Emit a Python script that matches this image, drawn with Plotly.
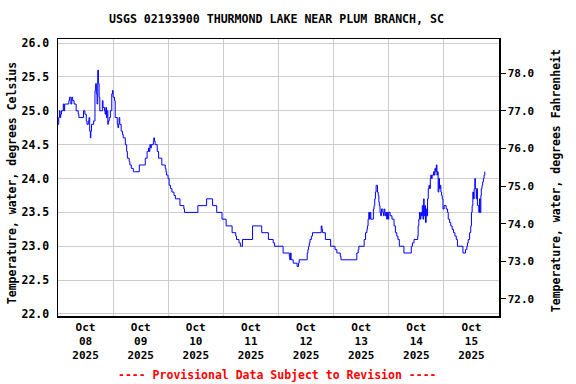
import datetime as dt
import plotly.graph_objects as go

# ---- data: hours since 2025-10-08 00:00 and water temperature (deg C)
start = dt.datetime(2025, 10, 8, 0, 0)
hours = [
    0.0, 0.3, 0.6, 0.9, 1.2, 1.5, 2.3, 2.6, 2.9, 3.2, 4.7, 5.0, 5.6, 6.0, 6.4, 7.0, 7.9, 8.8, 9.1,
    11.1, 11.7, 12.3, 12.6, 13.2, 13.5, 13.8, 14.1, 14.3, 14.6, 15.5, 16.1, 16.4, 16.7, 17.0, 17.3,
    17.6, 17.9, 18.2, 19.0, 19.3, 19.6, 20.2, 20.5, 20.8, 21.1, 21.4, 21.7, 21.9, 22.3, 22.8, 23.4,
    23.7, 24.0, 24.6, 24.9, 25.8, 26.1, 26.4, 26.6, 26.9, 27.5, 28.1, 28.4, 29.3, 29.9, 30.2, 31.0,
    31.3, 31.9, 32.8, 33.4, 35.4, 38.0, 38.8, 39.4, 39.7, 40.0, 40.4, 40.6, 41.5, 41.7, 42.0, 42.3,
    43.2, 43.8, 45.2, 46.7, 47.0, 47.3, 47.9, 48.4, 49.0, 49.6, 50.5, 51.1, 53.1, 54.8, 55.1, 60.9,
    64.7, 67.3, 69.1, 71.4, 73.2, 75.8, 77.4, 77.7, 78.8, 79.4, 80.3, 84.7, 88.7, 91.6, 93.7, 94.3,
    98.0, 100.7, 100.9, 101.2, 101.5, 102.4, 104.1, 104.7, 105.0, 108.5, 108.8, 109.1, 109.4, 109.7,
    110.3, 110.8, 114.6, 114.9, 115.2, 116.4, 118.7, 120.6, 121.4, 122.9, 123.2, 130.1, 130.7, 131.0,
    133.3, 133.9, 134.5, 134.7, 135.0, 135.3, 135.6, 135.9, 136.2, 137.3, 137.6, 137.9, 138.2, 138.5,
    139.1, 139.4, 139.7, 139.9, 140.2, 140.5, 140.8, 141.4, 141.7, 142.0, 142.3, 142.5, 142.8, 143.1,
    143.4, 143.7, 144.0, 144.6, 145.4, 146.3, 146.9, 147.5, 148.0, 148.6, 150.6, 153.8, 154.3, 155.0,
    156.6, 156.8, 157.1, 157.4, 157.7, 158.0, 158.3, 158.6, 158.9, 159.2, 159.4, 159.7, 160.0, 160.3,
    160.6, 160.9, 161.2, 161.5, 161.8, 162.1, 162.3, 162.6, 162.9, 163.5, 163.8, 164.1, 164.4, 164.7,
    165.0, 165.2, 165.5, 165.8, 166.1, 166.4, 166.7, 167.0, 167.3, 167.6, 168.1, 169.0, 169.6, 169.9,
    170.5, 171.0, 171.6, 172.2, 172.8, 173.4, 173.9, 176.3, 177.4, 178.0, 178.3, 178.6, 179.2, 179.7,
    180.0, 180.3, 180.6, 180.9, 181.2, 181.5, 181.7, 182.1, 182.3, 182.6, 183.2, 183.5, 183.8, 184.1,
    184.3, 184.6, 184.9, 185.2, 185.5, 185.8,
]
temp_c = [
    24.8, 24.9, 25.0, 24.9, 24.95, 25.0, 25.1, 25.0, 25.1, 25.1, 25.15, 25.2, 25.1, 25.2, 25.15, 25.1, 25.0, 24.95, 24.9,
    25.0, 24.95, 24.85, 24.8, 24.85, 24.9, 24.7, 24.6, 24.7, 24.8, 24.85, 25.3, 25.4, 25.25, 25.1, 25.6,
    25.4, 25.2, 25.0, 25.0, 25.15, 25.05, 25.0, 24.95, 25.05, 24.9, 25.0, 24.8, 24.85, 24.9, 25.0, 25.25,
    25.3, 25.2, 25.15, 24.9, 24.8, 24.75, 24.8, 24.9, 24.8, 24.7, 24.65, 24.6, 24.5, 24.4, 24.3, 24.25,
    24.2, 24.15, 24.1, 24.1, 24.2, 24.3, 24.4, 24.45, 24.4, 24.5, 24.45, 24.5, 24.55, 24.6, 24.55, 24.5,
    24.4, 24.3, 24.2, 24.15, 24.1, 24.05, 24.0, 23.9, 23.85, 23.8, 23.75, 23.7, 23.6, 23.55, 23.5, 23.6,
    23.7, 23.6, 23.5, 23.4, 23.3, 23.2, 23.15, 23.1, 23.05, 23.0, 23.1, 23.3, 23.2, 23.1, 23.05, 23.0,
    22.9, 22.85, 22.8, 22.9, 22.8, 22.75, 22.7, 22.75, 22.8, 22.9, 22.95, 23.0, 23.05, 23.1,
    23.15, 23.2, 23.3, 23.25, 23.2, 23.1, 23.0, 22.95, 22.9, 22.85, 22.8, 22.9, 22.95, 23.0,
    23.1, 23.2, 23.25, 23.3, 23.4, 23.5, 23.4, 23.5, 23.4, 23.55, 23.6, 23.7, 23.8, 23.9,
    23.8, 23.75, 23.65, 23.6, 23.5, 23.45, 23.55, 23.5, 23.45, 23.55, 23.5, 23.45, 23.5, 23.4,
    23.5, 23.4, 23.5, 23.45, 23.4, 23.3, 23.2, 23.15, 23.1, 23.0, 22.9, 23.0, 23.05, 23.1,
    23.15, 23.3, 23.4, 23.5, 23.4, 23.5, 23.45, 23.6, 23.4, 23.7, 23.45, 23.6, 23.35, 23.55,
    23.45, 23.7, 23.85, 23.9, 23.85, 24.0, 24.05, 24.0, 24.05, 24.1, 24.05, 24.15, 24.1, 24.2,
    24.05, 24.1, 23.8, 24.0, 23.85, 23.9, 23.8, 23.75, 23.7, 23.55, 23.6, 23.55, 23.5, 23.4,
    23.35, 23.3, 23.25, 23.2, 23.15, 23.1, 23.0, 22.9, 22.95, 23.0, 23.05, 23.1, 23.2, 23.3,
    23.5, 23.6, 23.8, 23.7, 23.85, 24.0, 23.85, 23.7, 23.85, 23.6, 23.5, 23.7, 23.5, 23.75,
    23.85, 23.9, 23.95, 24.0, 24.05, 24.1,
]
day_labels = ["08", "09", "10", "11", "12", "13", "14", "15"]
c_ticks = [22.0, 22.5, 23.0, 23.5, 24.0, 24.5, 25.0, 25.5, 26.0]
f_ticks = [72.0, 73.0, 74.0, 75.0, 76.0, 77.0, 78.0]
c_range = [21.97, 26.06]

times = [start + dt.timedelta(hours=h) for h in hours]
temp_f = [c * 1.8 + 32 for c in temp_c]
tick_pos = [start + dt.timedelta(days=i, hours=12) for i in range(len(day_labels))]
tick_txt = ["Oct<br>%s<br>2025" % d for d in day_labels]

FONT = "DejaVu Sans Mono"

fig = go.Figure()
fig.add_trace(go.Scatter(x=times, y=temp_c, mode="lines", line=dict(color="#0000ff", width=1, shape="hv"),
                         showlegend=False, hoverinfo="skip"))
fig.add_trace(go.Scatter(x=times, y=temp_f, mode="lines", yaxis="y2", line=dict(color="rgba(0,0,0,0)", width=0),
                         showlegend=False, hoverinfo="skip"))

fig.update_layout(
    width=576, height=384,
    margin=dict(l=58, r=77, t=39, b=68),
    paper_bgcolor="white", plot_bgcolor="white",
    font=dict(family=FONT, size=11, color="black", weight="bold"),
    title=dict(text="USGS 02193900 THURMOND LAKE NEAR PLUM BRANCH, SC", x=0.48, xanchor="center",
               y=0.95, yanchor="middle", font=dict(family=FONT, size=11.6, color="black", weight="bold")),
    xaxis=dict(
        type="date",
        range=[start, start + dt.timedelta(days=8)],
        tickmode="array", tickvals=tick_pos, ticktext=tick_txt,
        showgrid=False, ticks="", tickfont=dict(size=11),
        showline=True, linecolor="black", linewidth=1.5, mirror=True,
        minor=dict(tick0=start, dtick=86400000, showgrid=True, gridcolor="#cccccc", gridwidth=1, ticks=""),
        zeroline=False,
    ),
    yaxis=dict(
        range=c_range, tickmode="array", tickvals=c_ticks, tickformat=".1f",
        showgrid=True, gridcolor="#cccccc", gridwidth=1,
        ticks="outside", ticklen=5, tickcolor="rgba(0,0,0,0)",
        showline=True, linecolor="black", linewidth=1.5, zeroline=False,
        tickfont=dict(size=11.5),
    ),
    yaxis2=dict(
        overlaying="y", side="right",
        range=[c_range[0] * 1.8 + 32, c_range[1] * 1.8 + 32],
        tickmode="array", tickvals=f_ticks, tickformat=".1f",
        showgrid=False, ticks="outside", ticklen=5, tickcolor="black", tickwidth=1,
        showline=True, linecolor="black", linewidth=1.5, zeroline=False,
        tickfont=dict(size=11),
    ),
    annotations=[
        dict(text="Temperature, water, degrees Celsius", xref="paper", yref="paper", x=-0.104, y=0.48,
             textangle=-90, showarrow=False, xanchor="center", yanchor="middle",
             font=dict(family=FONT, size=11.5, color="black", weight="bold")),
        dict(text="Temperature, water, degrees Fahrenheit", xref="paper", yref="paper", x=1.129, y=0.49,
             textangle=-90, showarrow=False, xanchor="center", yanchor="middle",
             font=dict(family=FONT, size=11.5, color="black", weight="bold")),
        dict(text="---- Provisional Data Subject to Revision ----", xref="paper", yref="paper",
             x=0.498, y=-0.213, showarrow=False, xanchor="center", yanchor="middle",
             font=dict(family=FONT, size=11.5, color="red", weight="bold")),
    ],
)

fig.write_html("out.html",
               config={"displayModeBar": False, "staticPlot": True},
               post_script="document.body.style.margin='0';document.body.style.padding='0';")
